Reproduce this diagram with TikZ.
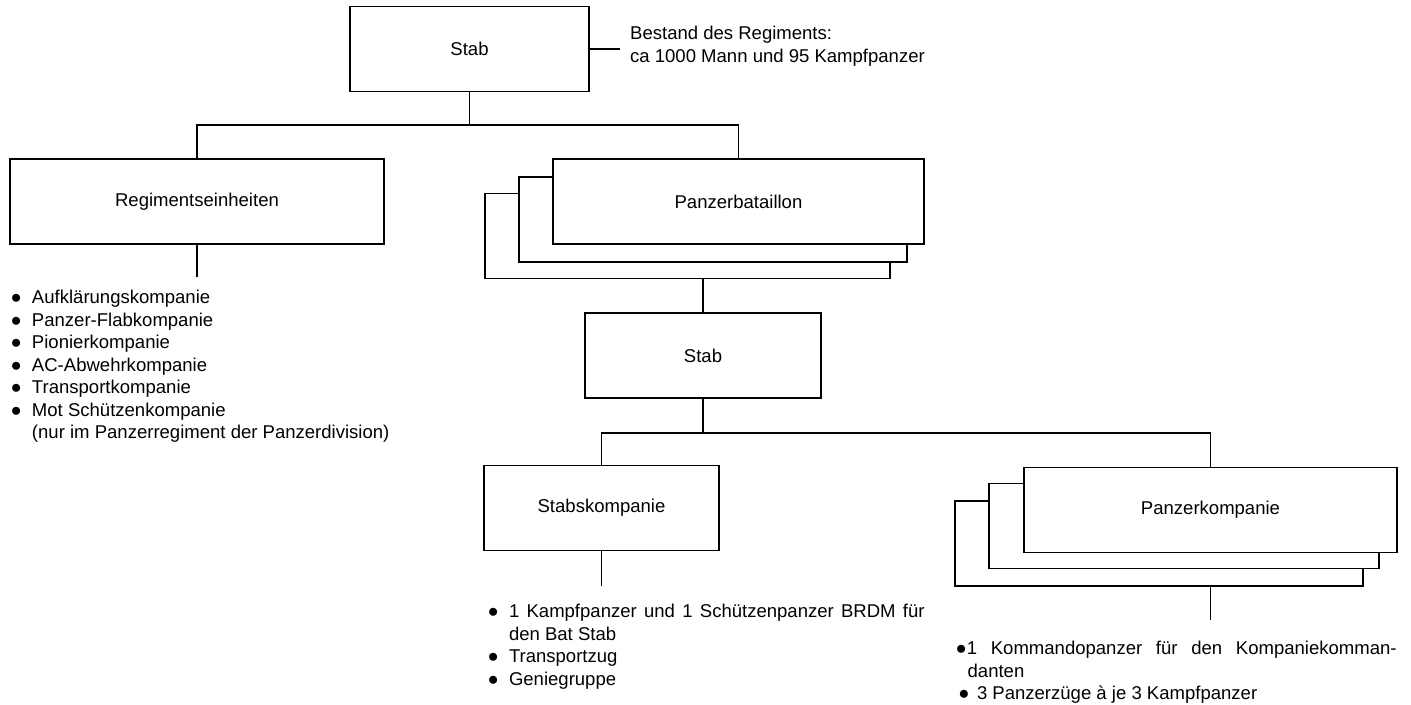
\documentclass[tikz,border=0pt]{standalone}
\usepackage{fontspec}
\setmainfont{Liberation Sans}
\usepackage{tikz}
\newcommand{\pkt}{\makebox[16pt][l]{●}}

\begin{document}
\begin{tikzpicture}[x=0.75pt, y=-0.75pt, line width=1pt, font=\fontsize{13.9pt}{16.9pt}\selectfont]
	\tikzstyle{box}=[draw, fill=white, rectangle, inner sep=0pt, minimum height=63.75pt]
	\tikzstyle{liste}=[inner sep=0pt, anchor=north west]
	
	\useasboundingbox (0,0) rectangle (1411,704);
	
	\node(stab)[box, minimum width=179.25pt] at (469.5,49){Stab};
	\node(bestand)[anchor=west, align=left, inner sep=0pt] at (629.5,46){Bestand des Regiments:\\ca 1000 Mann und 95 Kampfpanzer};
	\coordinate(bst) at (620,49);
	\draw (stab.east) -- (bst);
	
	\node(regeinh)[box, minimum width=280.5pt] at (197,201.5){Regimentseinheiten};
	\node(pzbat3)[box, minimum width=303.75pt] at (687.5,236){};
	\node(pzbat2)[box, minimum width=291pt] at (713,219.5){};
	\node(pzbat)[box, minimum width=278.25pt] at (738.5,201.5){Panzerbataillon};
	\coordinate(j1) at (469.5,125);
	\draw (stab.south) -- (j1);
	\draw (regeinh.north) |- (j1) -| (pzbat.north);
	
	\coordinate(r1) at (197,277);
	\draw (regeinh.south) -- (r1);
	\node(reglist)[liste, align=left] at (10,289.5){\pkt Aufklärungskompanie\\\pkt Panzer-Flabkompanie\\\pkt Pionierkompanie\\\pkt AC-Abwehrkompanie\\\pkt Transportkompanie\\\pkt Mot Schützenkompanie\\\hspace*{16pt}(nur im Panzerregiment der Panzerdivision)};
	
	\node(stab2)[box, minimum width=177pt] at (703,355.5){Stab};
	\draw (stab2.north) -- (stab2.north |- pzbat3.south);
	
	\node(stabskp)[box, minimum width=176.25pt] at (601.5,508){Stabskompanie};
	\node(pzkp3)[box, minimum width=306pt] at (1159,543.5){};
	\node(pzkp2)[box, minimum width=292.5pt] at (1184,526){};
	\node(pzkp)[box, minimum width=279.75pt] at (1210.5,510){Panzerkompanie};
	\coordinate(j2) at (703,433);
	\draw (stab2.south) -- (j2);
	\draw (stabskp.north) |- (j2) -| (pzkp.north);
	
	\coordinate(s1) at (601.5,586);
	\draw (stabskp.south) -- (s1);
	\node(stablist)[liste, text width=327.75pt, align=justify] at (487,603.5){\hangindent=16pt\hangafter=1\pkt 1 Kampfpanzer und 1 Schützenpanzer BRDM für\linebreak den Bat Stab\par\pkt Transportzug\par\pkt Geniegruppe};
	
	\coordinate(p1) at (1210.5,620);
	\draw (pzkp.south |- pzkp3.south) -- (p1);
	\node(pzlist)[liste, text width=330.75pt, align=justify] at (955,640.5){\hangindent=9pt\hangafter=1●1 Kommandopanzer für den Kompaniekomman-\linebreak danten\par\hspace*{2pt}\makebox[14pt][l]{●}3 Panzerzüge à je 3 Kampfpanzer};
\end{tikzpicture}
\end{document}
